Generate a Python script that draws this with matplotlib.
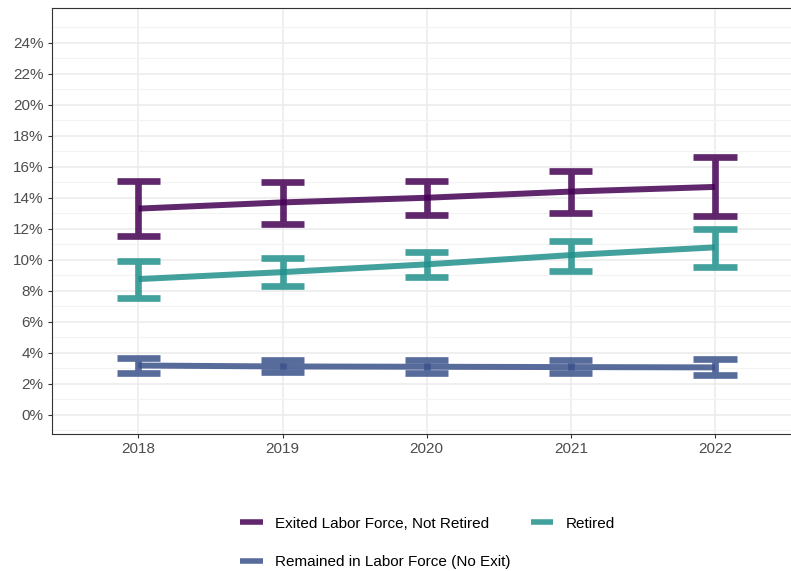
import matplotlib
matplotlib.use("Agg")
import matplotlib.pyplot as plt
from matplotlib.lines import Line2D
from matplotlib.ticker import FuncFormatter
import numpy as np

plt.rcParams['font.family'] = ['Liberation Sans', 'DejaVu Sans']

years = [2018, 2019, 2020, 2021, 2022]

# share of respondents (%) with 95% confidence bounds
exited = [13.3, 13.7, 14.0, 14.4, 14.7]
exited_lo = [11.5, 12.3, 12.9, 13.0, 12.8]
exited_hi = [15.1, 15.0, 15.1, 15.7, 16.6]

retired = [8.75, 9.2, 9.7, 10.3, 10.8]
retired_lo = [7.5, 8.3, 8.9, 9.3, 9.5]
retired_hi = [9.9, 10.1, 10.5, 11.2, 12.0]

remained = [3.17, 3.11, 3.09, 3.07, 3.05]
remained_lo = [2.70, 2.74, 2.72, 2.70, 2.55]
remained_hi = [3.68, 3.55, 3.54, 3.52, 3.58]

labels = ["Exited Labor Force, Not Retired",
          "Remained in Labor Force (No Exit)",
          "Retired"]
colors = ["#440154", "#3B528B", "#21908C"]
series = [(exited, exited_lo, exited_hi),
          (remained, remained_lo, remained_hi),
          (retired, retired_lo, retired_hi)]

ALPHA = 0.85
CAP = 0.15  # half width of error bar caps, in years

fig = plt.figure(figsize=(7.91, 5.71), dpi=100)
ax = fig.add_axes([52 / 791, 137 / 571, 749.4 / 791, 426 / 571])

for (mid, lo, hi), col in zip(series, colors):
    ax.plot(years, mid, color=col, lw=4.3, alpha=ALPHA,
            solid_capstyle='butt', zorder=3)
    # one path per series so overlapping caps don't darken
    xs, ys = [], []
    for x, l, h in zip(years, lo, hi):
        xs += [x - CAP, x + CAP, np.nan, x, x, np.nan, x - CAP, x + CAP, np.nan]
        ys += [h, h, np.nan, l, h, np.nan, l, l, np.nan]
    ax.plot(xs, ys, color=col, lw=4.8, alpha=ALPHA,
            solid_capstyle='butt', zorder=4)

ax.set_xlim(2017.4, 2022.6)
ax.set_ylim(-1.25, 26.25)
ax.set_xticks(years)
ax.yaxis.set_major_formatter(FuncFormatter(lambda v, p: f"{v:.0f}%"))
ax.set_yticks([v for v in range(0, 25, 2)])
ax.set_yticks([v for v in range(-1, 27, 1) if v % 2], minor=True)

ax.grid(True, which='major', color='#EBEBEB', lw=1.1, zorder=0)
ax.grid(True, which='minor', axis='y', color='#F3F3F3', lw=0.8, zorder=0)
ax.set_axisbelow(True)

for s in ax.spines.values():
    s.set_color('#333333')
    s.set_linewidth(0.8)

ax.tick_params(which='major', length=3, width=0.8, color='#333333',
               labelsize=11, labelcolor='#4D4D4D', pad=3)
ax.tick_params(which='minor', length=0)

handles = [Line2D([], [], color=c, lw=4, alpha=ALPHA, solid_capstyle='butt')
           for c in colors]
fig.legend(handles, labels, ncol=2, loc='center',
           bbox_to_anchor=(427.5 / 791, 28 / 571), frameon=False,
           fontsize=11, handlelength=1.5, handletextpad=0.78,
           columnspacing=1.3, labelspacing=1.6, borderpad=0)

fig.savefig("out.png", dpi=100)
